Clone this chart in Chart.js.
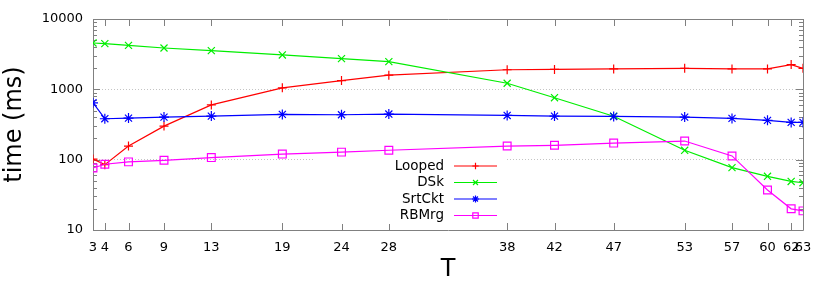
<!DOCTYPE html>
<html>
<head>
<meta charset="utf-8">
<script src="https://cdn.jsdelivr.net/npm/chart.js"></script>
<style>
  body { margin: 0; background: #fff; }
</style>
</head>
<body>
<canvas id="chart" width="830" height="282"></canvas>
<script>
// values (log y)
const T = [3, 4, 6, 9, 13, 19, 24, 28, 38, 42, 47, 53, 57, 60, 62, 63];
const looped = [102, 85, 156, 300, 600, 1050, 1330, 1590, 1900, 1920, 1950, 1990, 1950, 1950, 2250, 1990];
const dsk = [4560, 4460, 4220, 3870, 3550, 3080, 2730, 2480, 1220, 760, 415, 136, 77, 58, 49, 47];
const srtCkt = [644, 382, 390, 403, 416, 440, 435, 445, 425, 416, 412, 403, 386, 362, 339, 339];
const rbMrg = [76, 86, 93, 98, 107, 120, 128, 136, 156, 160, 172, 184, 113, 37, 20, 18.7];
const yTicks = [10, 100, 1000, 10000];

const FONT = 'DejaVu Sans';

function series(label, values, color, style, radius, order) {
  return {
    label,
    data: T.map((t, i) => ({ x: t, y: values[i] })),
    borderColor: color,
    backgroundColor: 'rgba(0,0,0,0)',
    borderWidth: 1.2,
    pointStyle: style,
    pointRadius: radius,
    pointBorderWidth: 1.2,
    pointBorderColor: color,
    pointBackgroundColor: 'rgba(0,0,0,0)',
    tension: 0,
    order,
  };
}

// frame, inward ticks, and the boxed key
const framePlugin = {
  id: 'frame',
  beforeDatasetsDraw(chart) {
    const { ctx, chartArea: a, scales: { x, y } } = chart;
    const px = (v) => Math.round(v) + 0.5;
    ctx.save();
    ctx.strokeStyle = '#808080';
    ctx.lineWidth = 1;
    ctx.beginPath();
    ctx.rect(px(a.left), px(a.top), Math.round(a.right) - Math.round(a.left), Math.round(a.bottom) - Math.round(a.top));
    ctx.stroke();

    ctx.beginPath();
    T.forEach((t) => {
      const xp = px(x.getPixelForValue(t));
      ctx.moveTo(xp, a.bottom); ctx.lineTo(xp, a.bottom - 7);
      ctx.moveTo(xp, a.top); ctx.lineTo(xp, a.top + 7);
    });
    yTicks.forEach((v) => {
      const yp = px(y.getPixelForValue(v));
      ctx.moveTo(a.left, yp); ctx.lineTo(a.left + 7, yp);
      ctx.moveTo(a.right, yp); ctx.lineTo(a.right - 7, yp);
    });
    [10, 100, 1000].forEach((d) => {
      for (let k = 2; k <= 9; k++) {
        const yp = px(y.getPixelForValue(d * k));
        ctx.moveTo(a.left, yp); ctx.lineTo(a.left + 4, yp);
        ctx.moveTo(a.right, yp); ctx.lineTo(a.right - 4, yp);
      }
    });
    ctx.stroke();

    // key
    ctx.fillStyle = '#fff';
    ctx.fillRect(313, 155, 192, 69);
    ctx.font = '13.5px "' + FONT + '"';
    ctx.textAlign = 'right';
    ctx.textBaseline = 'middle';
    chart.data.datasets.forEach((ds, i) => {
      const ry = 166 + i * 16.5;
      ctx.fillStyle = '#000';
      ctx.fillText(ds.label, 444, ry);
      ctx.strokeStyle = ds.borderColor;
      ctx.lineWidth = ds.borderWidth;
      ctx.beginPath();
      ctx.moveTo(454, ry); ctx.lineTo(497, ry);
      ctx.stroke();
      ctx.fillStyle = 'rgba(0,0,0,0)';
      ctx.lineWidth = ds.pointBorderWidth;
      Chart.helpers.drawPoint(ctx, {
        pointStyle: ds.pointStyle,
        radius: ds.pointRadius * 0.7,
        borderWidth: ds.pointBorderWidth,
        rotation: 0,
      }, 475.5, ry);
    });
    ctx.restore();
  },
};

new Chart(document.getElementById('chart'), {
  type: 'line',
  data: {
    datasets: [
      series('Looped', looped, '#ff0000', 'cross', 4.5, 4),
      series('DSk', dsk, '#00ee00', 'crossRot', 5, 3),
      series('SrtCkt', srtCkt, '#0000ff', 'star', 5, 2),
      series('RBMrg', rbMrg, '#ff00ff', 'rect', 5.5, 1),
    ],
  },
  options: {
    responsive: false,
    animation: false,
    devicePixelRatio: 1,
    layout: { padding: { top: 19, right: 27, left: 0, bottom: 0 } },
    plugins: {
      legend: { display: false },
      tooltip: { enabled: false },
    },
    scales: {
      x: {
        type: 'linear',
        min: 3,
        max: 63,
        afterBuildTicks: (scale) => { scale.ticks = T.map((v) => ({ value: v })); },
        afterFit: (scale) => { scale.height = 52; },
        ticks: {
          autoSkip: false,
          maxRotation: 0,
          padding: 2,
          color: '#000',
          font: { family: FONT, size: 13 },
          callback: (v) => String(v),
        },
        grid: { display: false },
        border: { display: false },
        title: {
          display: true,
          text: 'T',
          color: '#000',
          font: { family: FONT, size: 24, lineHeight: 1.0 },
          padding: { top: 0, bottom: 0 },
        },
      },
      y: {
        type: 'logarithmic',
        min: 10,
        max: 10000,
        afterBuildTicks: (scale) => { scale.ticks = yTicks.map((v) => ({ value: v })); },
        afterFit: (scale) => { scale.width = 93; },
        ticks: {
          padding: 10,
          color: '#000',
          font: { family: FONT, size: 13 },
          callback: (v) => String(v),
        },
        grid: {
          drawTicks: false,
          color: (c) => (c.tick && (c.tick.value === 100 || c.tick.value === 1000)) ? '#c4c4c4' : 'rgba(0,0,0,0)',
          lineWidth: 1,
        },
        border: { display: false, dash: [1, 2] },
        title: {
          display: true,
          text: 'time (ms)',
          color: '#000',
          font: { family: FONT, size: 24 },
          padding: { top: 0, bottom: 0 },
        },
      },
    },
  },
  plugins: [framePlugin],
});
</script>
</body>
</html>
